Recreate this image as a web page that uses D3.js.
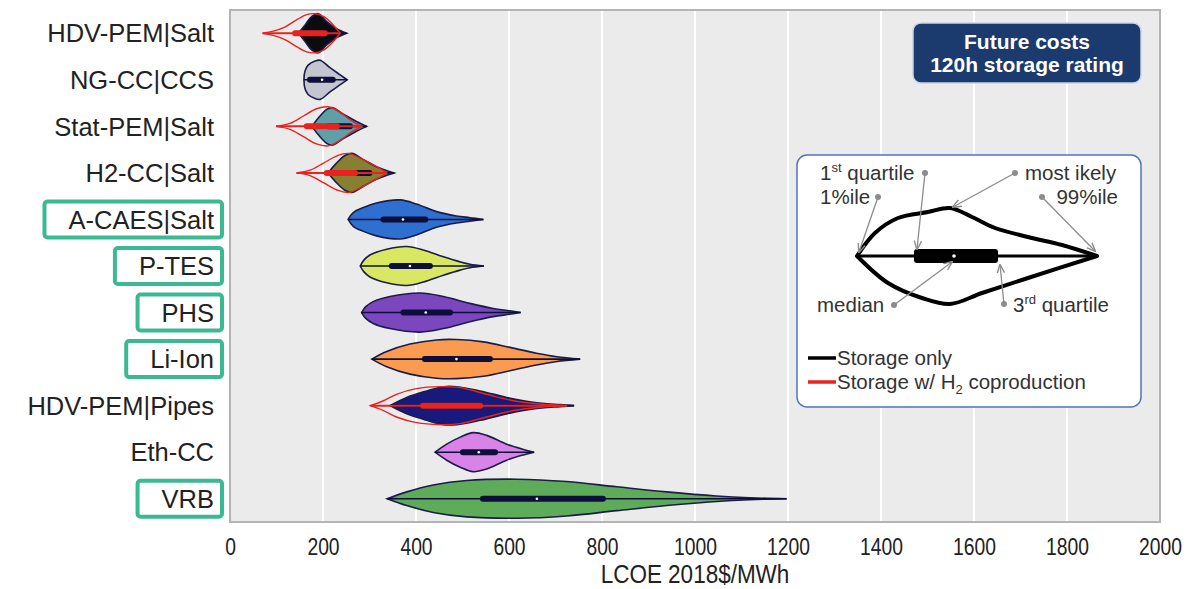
<!DOCTYPE html>
<html>
<head>
<meta charset="utf-8">
<script src="https://cdn.jsdelivr.net/npm/d3@7"></script>
<style>
  body { margin: 0; background: #fff; }
  text { font-family: "Liberation Sans", Arial, sans-serif; }
</style>
</head>
<body>
<svg width="1186" height="589"></svg>
<script>
// technologies, top to bottom
var categories = ["HDV-PEM|Salt", "NG-CC|CCS", "Stat-PEM|Salt", "H2-CC|Salt", "A-CAES|Salt",
  "P-TES", "PHS", "Li-Ion", "HDV-PEM|Pipes", "Eth-CC", "VRB"];
var highlighted = ["A-CAES|Salt", "P-TES", "PHS", "Li-Ion", "VRB"];
var colors = ["#0b0b12", "#c3c5d1", "#5f9fa7", "#868030", "#2f6fd0",
  "#d8e862", "#7c46bf", "#fb9b50", "#17197c", "#d982e8", "#5eab59"];

// storage only: quartiles and median
var q1  = [178, 172, 212, 248, 330, 348, 373, 419, 415, 501, 544];
var med = [190, 198, 230, 268, 372, 387, 421, 487, 460, 535, 660];
var q3  = [208, 221, 258, 300, 420, 430, 473, 559, 538, 570, 802];

// storage only: density outline, [LCOE, relative width]
var shapes = [
  [[147,0],[161,0.41],[176,0.86],[190,1],[208,0.59],[229,0.23],[251,0]],
  [[159,0],[161,0.43],[168,0.75],[183,0.96],[194,1],[215,0.62],[237,0.25],[252,0]],
  [[176,0],[190,0.43],[208,0.87],[219,0.96],[244,0.62],[272,0.25],[294,0]],
  [[211,0],[229,0.5],[247,0.89],[262,1],[287,0.68],[315,0.32],[353,0]],
  [[254,0],[265,0.35],[287,0.61],[315,0.84],[366,1],[401,0.79],[444,0.4],[487,0.18],[516,0.09],[545,0]],
  [[280,0],[288,0.3],[301,0.56],[337,0.86],[380,1],[416,0.82],[459,0.47],[495,0.21],[516,0.09],[546,0]],
  [[283,0],[292,0.3],[308,0.56],[344,0.82],[409,1],[459,0.82],[516,0.47],[566,0.21],[602,0.09],[625,0]],
  [[305,0],[337,0.39],[387,0.77],[444,0.98],[487,1],[545,0.88],[602,0.6],[659,0.3],[703,0.12],[753,0]],
  [[344,0],[380,0.42],[423,0.75],[459,0.97],[488,0.97],[538,0.75],[595,0.42],[652,0.17],[710,0.05],[740,0]],
  [[441,0],[466,0.41],[495,0.77],[523,1],[552,0.86],[595,0.41],[631,0.14],[654,0]],
  [[338,0],[380,0.35],[437,0.7],[509,0.93],[617,1],[724,0.88],[832,0.61],[939,0.35],[1046,0.14],[1118,0.05],[1197,0]]
];

// storage with H2 coproduction
var coCategories = ["HDV-PEM|Salt", "Stat-PEM|Salt", "H2-CC|Salt", "HDV-PEM|Pipes"];
var coQ1  = [140, 165, 208, 415];
var coMed = [170, 198, 238, 470];
var coQ3  = [204, 230, 269, 538];
var coShapes = [
  [[70,0],[93,0.11],[118,0.32],[143,0.68],[165,0.95],[183,1],[201,0.86],[219,0.5],[237,0]],
  [[99,0],[129,0.15],[158,0.53],[186,0.9],[211,1],[237,0.72],[258,0.34],[283,0]],
  [[143,0],[172,0.14],[201,0.5],[229,0.86],[254,1],[287,0.68],[315,0.32],[337,0]],
  [[302,0],[330,0.25],[358,0.58],[401,0.87],[452,0.97],[495,0.92],[552,0.58],[610,0.25],[667,0.08],[725,0]]
];

var xTicks = d3.range(0, 2001, 200);
var xTitle = "LCOE 2018$/MWh";

var svg = d3.select("svg");
var margin = {left: 230, right: 26, top: 10, bottom: 67};
var width = +svg.attr("width");
var height = +svg.attr("height");

var x = d3.scaleLinear().domain([0, 2000]).range([margin.left, width - margin.right]);
var y = d3.scaleBand().domain(categories).range([margin.top, height - margin.bottom]);
var color = d3.scaleOrdinal(categories, colors);
var hw = y.bandwidth() * 0.42;

// plot background + grid
svg.append("rect")
    .attr("x", x(0)).attr("y", margin.top)
    .attr("width", x(2000) - x(0)).attr("height", height - margin.bottom - margin.top)
    .attr("fill", "#ebebeb");

svg.append("g").selectAll("line")
  .data(xTicks.slice(1, -1))
  .enter().append("line")
    .attr("x1", d => x(d)).attr("x2", d => x(d))
    .attr("y1", margin.top).attr("y2", height - margin.bottom)
    .attr("stroke", "#fff").attr("stroke-width", 2);

svg.append("rect")
    .attr("x", x(0)).attr("y", margin.top)
    .attr("width", x(2000) - x(0)).attr("height", height - margin.bottom - margin.top)
    .attr("fill", "none").attr("stroke", "#b4b4b4").attr("stroke-width", 2);

function violin(d, i, sh) {
  var yc = y(d) + y.bandwidth() / 2;
  return d3.area()
      .x(p => x(p[0]))
      .y0(p => yc - p[1] * hw)
      .y1(p => yc + p[1] * hw)
      .curve(d3.curveCatmullRom)(sh[i]);
}

var g = svg.append("g");

// storage only violins
g.selectAll("path.v")
  .data(categories)
  .enter().append("path")
    .attr("class", "v")
    .attr("d", (d, i) => violin(d, i, shapes))
    .attr("fill", d => color(d))
    .attr("stroke", "#1b1d48").attr("stroke-width", 1.6);

// whisker line
g.selectAll("line.w")
  .data(categories)
  .enter().append("line")
    .attr("x1", (d, i) => x(shapes[i][0][0]))
    .attr("x2", (d, i) => x(shapes[i][shapes[i].length - 1][0]))
    .attr("y1", d => y(d) + y.bandwidth() / 2)
    .attr("y2", d => y(d) + y.bandwidth() / 2)
    .attr("stroke", "#0d0f3a").attr("stroke-width", 1.6);

g.selectAll("line.b")
  .data(categories)
  .enter().append("line")
    .attr("x1", (d, i) => x(q1[i]))
    .attr("x2", (d, i) => x(q3[i]))
    .attr("y1", d => y(d) + y.bandwidth() / 2)
    .attr("y2", d => y(d) + y.bandwidth() / 2)
    .attr("stroke", "#0d0f3a").attr("stroke-width", 6).attr("stroke-linecap", "round");

g.selectAll("circle.m")
  .data(categories)
  .enter().append("circle")
    .attr("cx", (d, i) => x(med[i]))
    .attr("cy", d => y(d) + y.bandwidth() / 2)
    .attr("r", 1.3).attr("fill", "#fff");

// coproduction violins (red outline)
var red = "#e8221f";
g.selectAll("path.co")
  .data(coCategories)
  .enter().append("path")
    .attr("d", (d, i) => violin(d, i, coShapes))
    .attr("fill", "none")
    .attr("stroke", red).attr("stroke-width", 1.4);

g.selectAll("line.cw")
  .data(coCategories)
  .enter().append("line")
    .attr("x1", (d, i) => x(coShapes[i][0][0]))
    .attr("x2", (d, i) => x(coShapes[i][coShapes[i].length - 1][0]))
    .attr("y1", d => y(d) + y.bandwidth() / 2)
    .attr("y2", d => y(d) + y.bandwidth() / 2)
    .attr("stroke", red).attr("stroke-width", 2);

g.selectAll("line.cb")
  .data(coCategories)
  .enter().append("line")
    .attr("x1", (d, i) => x(coQ1[i]))
    .attr("x2", (d, i) => x(coQ3[i]))
    .attr("y1", d => y(d) + y.bandwidth() / 2)
    .attr("y2", d => y(d) + y.bandwidth() / 2)
    .attr("stroke", red).attr("stroke-width", 6).attr("stroke-linecap", "round");

// y labels
var yl = svg.append("g").selectAll("text")
  .data(categories)
  .enter().append("text")
    .attr("x", 214)
    .attr("y", d => y(d) + y.bandwidth() / 2)
    .attr("dy", "0.36em")
    .attr("text-anchor", "end")
    .attr("font-size", 25.5)
    .attr("fill", "#222")
    .text(d => d);

// green boxes around highlighted labels
yl.filter(d => highlighted.includes(d)).each(function(d) {
  var b = this.getBBox();
  var yc = y(d) + y.bandwidth() / 2;
  svg.append("rect")
      .attr("x", b.x - 24).attr("y", yc - 18)
      .attr("width", 222 - (b.x - 24)).attr("height", 36)
      .attr("rx", 3)
      .attr("fill", "none").attr("stroke", "#3bb993").attr("stroke-width", 4);
});

// x axis
svg.append("g")
    .attr("transform", "translate(0," + (height - margin.bottom) + ")")
    .call(d3.axisBottom(x).tickValues(xTicks).tickFormat(d3.format("d")).tickSize(0).tickPadding(17))
    .call(a => a.select(".domain").remove())
    .selectAll("text")
    .attr("font-size", 23)
    .attr("transform", "scale(0.84,1)")
    .attr("fill", "#222");

svg.append("text")
    .attr("transform", "translate(" + ((x(0) + x(2000)) / 2) + ",583) scale(0.9,1)")
    .attr("text-anchor", "middle")
    .attr("font-size", 25)
    .attr("fill", "#222")
    .text(xTitle);

// title box
svg.append("rect")
    .attr("x", 913).attr("y", 23).attr("width", 228).attr("height", 60)
    .attr("rx", 8).attr("fill", "#1b3a6d").attr("stroke", "#c9d3e6").attr("stroke-width", 1.5);
svg.append("text")
    .attr("x", 1027).attr("y", 49).attr("text-anchor", "middle")
    .attr("font-size", 21).attr("font-weight", "bold").attr("fill", "#fff")
    .text("Future costs");
svg.append("text")
    .attr("x", 1027).attr("y", 72).attr("text-anchor", "middle")
    .attr("font-size", 21).attr("font-weight", "bold").attr("fill", "#fff")
    .text("120h storage rating");

// explanation legend
var lg = svg.append("g");
lg.append("rect")
    .attr("x", 797).attr("y", 155).attr("width", 344).attr("height", 252)
    .attr("rx", 10).attr("fill", "#fff").attr("stroke", "#5372c0").attr("stroke-width", 1.5);

svg.append("defs").append("marker")
    .attr("id", "arr").attr("viewBox", "0 0 10 10").attr("refX", 9).attr("refY", 5)
    .attr("markerWidth", 7).attr("markerHeight", 7).attr("orient", "auto")
  .append("path").attr("d", "M0,1L10,5L0,9").attr("fill", "none").attr("stroke", "#8c8c8c").attr("stroke-width", 1.5);

var demoTop = [[857,256],[875,233],[898,218],[928,212],[950,208],[972,217],[995,228],[1028,237],[1062,245],[1097,256]];
var demoLow = [[857,256],[888,283],[922,298],[950,304],[982,293],[1028,278],[1097,256]];
var demoLine = d3.line().curve(d3.curveCatmullRom);
lg.append("path")
    .attr("d", demoLine(demoTop) + "L" + demoLine(demoLow.slice().reverse()).slice(1) + "Z")
    .attr("fill", "none").attr("stroke", "#000").attr("stroke-width", 4).attr("stroke-linejoin", "round");
lg.append("line").attr("x1", 857).attr("x2", 1097).attr("y1", 256).attr("y2", 256)
    .attr("stroke", "#000").attr("stroke-width", 3);
lg.append("rect").attr("x", 914).attr("y", 249).attr("width", 84).attr("height", 14).attr("rx", 3).attr("fill", "#000");
lg.append("circle").attr("cx", 954).attr("cy", 256).attr("r", 1.8).attr("fill", "#fff");

var notes = [
  {t: "1", sup: "st", rest: " quartile", x: 820, y: 180, anchor: "start", dot: [925, 173], to: [917, 249]},
  {t: "1%ile", x: 820, y: 204, anchor: "start", dot: [878, 197], to: [859, 252]},
  {t: "most ikely", x: 1025, y: 180, anchor: "start", dot: [1015, 173], to: [953, 207]},
  {t: "99%ile", x: 1118, y: 204, anchor: "end", dot: [1042, 197], to: [1095, 251]},
  {t: "median", x: 817, y: 312, anchor: "start", dot: [894, 305], to: [952, 262]},
  {t: "3", sup: "rd", rest: " quartile", x: 1013, y: 312, anchor: "start", dot: [1004, 304], to: [1000, 265]}
];
notes.forEach(function(n) {
  var t = lg.append("text").attr("x", n.x).attr("y", n.y).attr("text-anchor", n.anchor)
      .attr("font-size", 20.5).attr("fill", "#333");
  t.append("tspan").text(n.t);
  if (n.sup) {
    t.append("tspan").attr("font-size", 13).attr("dy", -8).text(n.sup);
    t.append("tspan").attr("dy", 8).text(n.rest);
  }
  lg.append("line").attr("x1", n.dot[0]).attr("y1", n.dot[1]).attr("x2", n.to[0]).attr("y2", n.to[1])
      .attr("stroke", "#8c8c8c").attr("stroke-width", 1.3).attr("marker-end", "url(#arr)");
  lg.append("circle").attr("cx", n.dot[0]).attr("cy", n.dot[1]).attr("r", 3).attr("fill", "#8c8c8c");
});

var keys = [{label: "Storage only", c: "#000", y: 358}, {label: "Storage w/ H", sub: "2", rest: " coproduction", c: red, y: 382}];
keys.forEach(function(k) {
  lg.append("line").attr("x1", 808).attr("x2", 836).attr("y1", k.y).attr("y2", k.y)
      .attr("stroke", k.c).attr("stroke-width", 3.5);
  var t = lg.append("text").attr("x", 837).attr("y", k.y + 7).attr("font-size", 20.5).attr("fill", "#333");
  t.append("tspan").text(k.label);
  if (k.sub) {
    t.append("tspan").attr("font-size", 13).attr("dy", 5).text(k.sub);
    t.append("tspan").attr("dy", -5).text(k.rest);
  }
});
</script>
</body>
</html>
